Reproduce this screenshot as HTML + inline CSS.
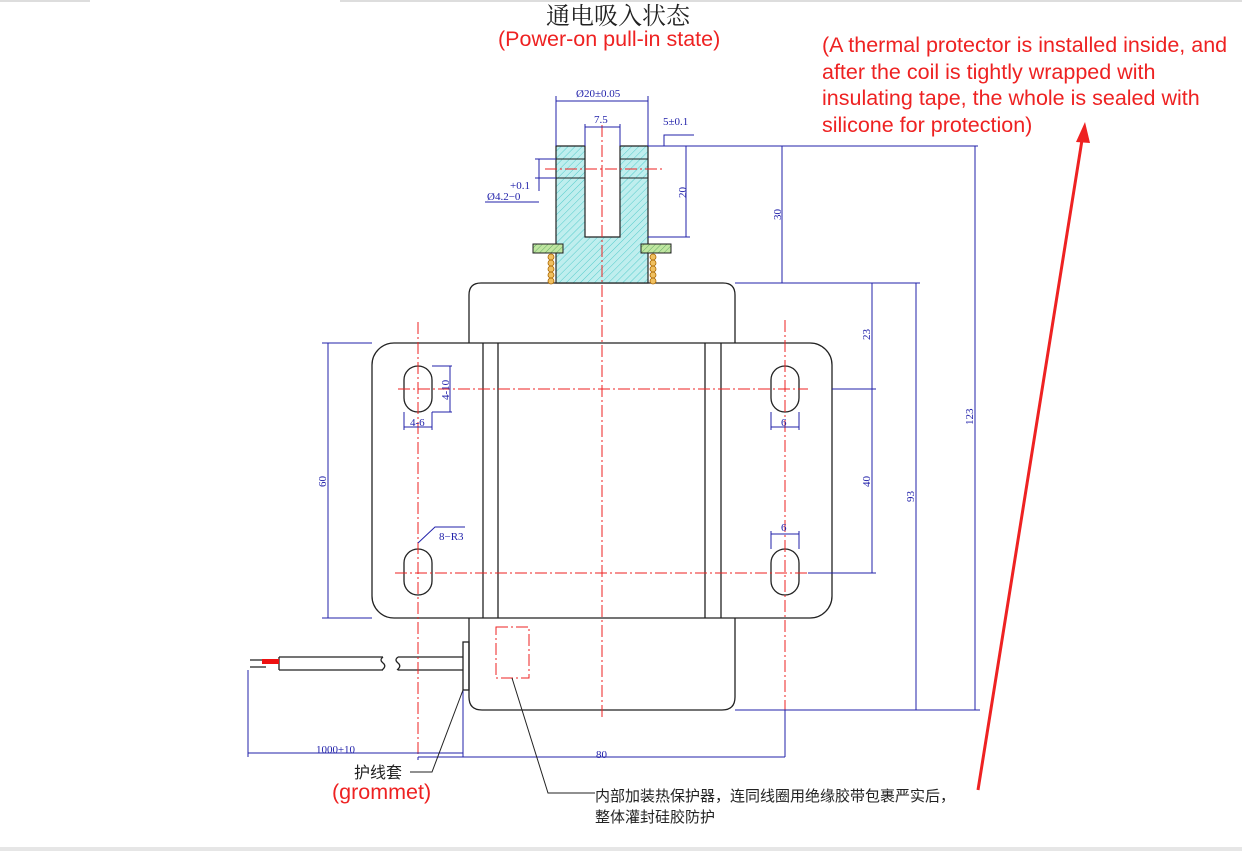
<!DOCTYPE html>
<html><head><meta charset="utf-8"><style>
body{margin:0;background:#fff;width:1242px;height:851px;overflow:hidden;position:relative;font-family:"Liberation Sans","Noto Sans CJK SC",sans-serif}
.t{position:absolute;white-space:nowrap}
</style></head><body>
<div style="position:absolute;left:0;top:0;width:90px;height:2px;background:#ddd"></div>
<div style="position:absolute;left:340px;top:0;width:902px;height:2px;background:#ddd"></div>
<div style="position:absolute;left:0;top:847px;width:1242px;height:4px;background:#e6e6e6"></div>
<svg width="1242" height="851" style="position:absolute;left:0;top:0">
<defs><pattern id="h" width="5" height="5" patternUnits="userSpaceOnUse" patternTransform="rotate(45)"><rect width="5" height="5" fill="#bfeeee"/><line x1="0" y1="0" x2="0" y2="5" stroke="#5cc" stroke-width="1"/></pattern>
<pattern id="g" width="4" height="4" patternUnits="userSpaceOnUse" patternTransform="rotate(45)"><rect width="4" height="4" fill="#bfe6a0"/><line x1="0" y1="0" x2="0" y2="4" stroke="#6a6" stroke-width="1"/></pattern></defs>
<g fill="none" stroke="#222" stroke-width="1.3">
<path d="M469,343 V295 Q469,283 481,283 H723 Q735,283 735,295 V343"/>
<rect x="372" y="343" width="460" height="275" rx="22"/>
<line x1="483" y1="343" x2="483" y2="618"/><line x1="498" y1="343" x2="498" y2="618"/>
<line x1="705" y1="343" x2="705" y2="618"/><line x1="721" y1="343" x2="721" y2="618"/>
<path d="M469,618 V697 Q469,710 482,710 H722 Q735,710 735,697 V618"/>
<rect x="404" y="366" width="28" height="46" rx="14"/><rect x="404" y="549" width="28" height="46" rx="14"/>
<rect x="771" y="366" width="28" height="46" rx="14"/><rect x="771" y="549" width="28" height="46" rx="14"/>
<rect x="463" y="642" width="6" height="48"/>
<path d="M279,657 H383 M279,670 H383 M398,657 H463 M398,670 H463 M279,657 V670"/>
<path d="M383,657 q-4,3 0,6 q4,3 -1,7 M398,657 q-4,3 0,6 q4,3 -1,7"/>
<path d="M250,660 H266 M250,667 H266"/>
</g>
<rect x="262" y="659" width="17" height="5" fill="#e11"/>
<path d="M556,146 H585 V237 H620 V146 H648 V283 H556 Z" fill="url(#h)" stroke="#222" stroke-width="1.2"/>
<line x1="556" y1="159" x2="585" y2="159" stroke="#222"/><line x1="556" y1="178" x2="585" y2="178" stroke="#222"/>
<line x1="620" y1="159" x2="648" y2="159" stroke="#222"/><line x1="620" y1="178" x2="648" y2="178" stroke="#222"/>
<rect x="533" y="244" width="30" height="9" fill="url(#g)" stroke="#222"/><rect x="641" y="244" width="30" height="9" fill="url(#g)" stroke="#222"/>
<g fill="#f0c060" stroke="#a60" stroke-width="0.8">
<circle cx="551" cy="257" r="3"/><circle cx="551" cy="263" r="3"/><circle cx="551" cy="269" r="3"/><circle cx="551" cy="275" r="3"/><circle cx="551" cy="281" r="3"/>
<circle cx="653" cy="257" r="3"/><circle cx="653" cy="263" r="3"/><circle cx="653" cy="269" r="3"/><circle cx="653" cy="275" r="3"/><circle cx="653" cy="281" r="3"/></g>
<g stroke="#e22" stroke-width="1" stroke-dasharray="12,3,2,3" fill="none">
<line x1="602" y1="125" x2="602" y2="720"/><line x1="545" y1="169" x2="665" y2="169"/>
<line x1="418" y1="322" x2="418" y2="760"/><line x1="785" y1="320" x2="785" y2="760"/>
<line x1="398" y1="389" x2="808" y2="389"/><line x1="395" y1="573" x2="808" y2="573"/>
<rect x="496" y="627" width="33" height="51"/></g>
<g stroke="#22a" stroke-width="1" fill="none">
<path d="M556,146 V96 M648,146 V96 M556,101 H648 M585,146 V124 M620,146 V124 M585,127 H620"/>
<path d="M664,146 V135 H694 M648,146 H978 M648,237 H690 M686,146 V237"/>
<path d="M539,159 V191 M535,159 H556 M535,178 H556 M485,202 H539"/>
<path d="M782,146 V283 M735,283 H920 M872,283 V573 M832,389 H876 M808,573 H876 M916,283 V710 M975,146 V710 M735,710 H980"/>
<path d="M328,343 V618 M322,343 H372 M322,618 H372"/>
<path d="M432,366 H452 M432,412 H452 M450,366 V412 M404,412 V430 M432,412 V430 M404,427 H432"/>
<path d="M771,412 V430 M799,412 V430 M771,427 H799 M771,531 V549 M799,531 V549 M771,534 H799"/>
<path d="M418,543 L435,527 H465"/>
<path d="M248,670 V757 M463,690 V757 M248,753 H463 M418,757 V760 M785,710 V757 M418,757 H785"/>
</g>
<g fill="#22a" font-family="Liberation Serif,serif" font-size="11">
<text x="576" y="97">Ø20±0.05</text><text x="594" y="123">7.5</text><text x="663" y="125">5±0.1</text>
<text x="510" y="189">+0.1</text><text x="487" y="200">Ø4.2−0</text>
<text x="410" y="426">4-6</text><text x="781" y="426">6</text><text x="781" y="531">6</text><text x="439" y="540">8−R3</text>
<text x="316" y="753">1000±10</text><text x="596" y="758">80</text>
<text transform="translate(686,198) rotate(-90)">20</text><text transform="translate(781,220) rotate(-90)">30</text>
<text transform="translate(870,340) rotate(-90)">23</text><text transform="translate(870,487) rotate(-90)">40</text>
<text transform="translate(914,502) rotate(-90)">93</text><text transform="translate(973,425) rotate(-90)">123</text>
<text transform="translate(326,487) rotate(-90)">60</text><text transform="translate(449,400) rotate(-90)">4-10</text>
</g>
<g stroke="#222" fill="none"><path d="M463,690 L432,772 H410"/><path d="M512,678 L548,793 H595"/></g>
<line x1="978" y1="790" x2="1082" y2="140" stroke="#e22" stroke-width="3"/>
<polygon points="1085,122 1076,142 1090,143" fill="#e22"/>
</svg>
<div class="t" style="left:546px;top:3px;font-size:24px;line-height:28px;color:#222;font-family:'Liberation Serif','Noto Serif CJK SC',serif">通电吸入状态</div>
<div class="t" style="left:498px;top:26px;font-size:21.5px;line-height:26px;color:#e22">(Power-on pull-in state)</div>
<div class="t" style="left:822px;top:32px;font-size:21.5px;color:#e22;line-height:26.5px">(A thermal protector is installed inside, and<br>after the coil is tightly wrapped with<br>insulating tape, the whole is sealed with<br>silicone for protection)</div>
<div class="t" style="left:354px;top:764px;font-size:16px;line-height:20px;color:#222">护线套</div>
<div class="t" style="left:332px;top:779px;font-size:21.5px;line-height:26px;color:#e22">(grommet)</div>
<div class="t" style="left:595px;top:786px;font-size:15px;color:#222;line-height:21px">内部加装热保护器，连同线圈用绝缘胶带包裹严实后，<br>整体灌封硅胶防护</div>
</body></html>
